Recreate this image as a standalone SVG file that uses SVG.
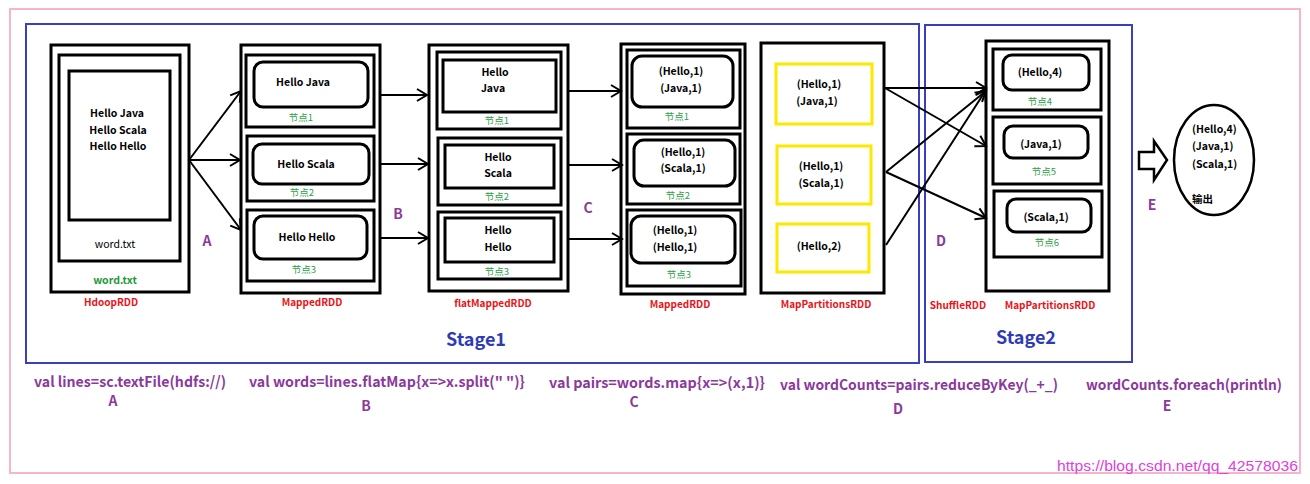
<svg xmlns="http://www.w3.org/2000/svg" width="1310" height="484" viewBox="0 0 1310 484">
<style>
.box{fill:#fff;stroke:#000;stroke-width:3}
.in{fill:none;stroke:#000;stroke-width:3}
.yl{fill:none;stroke:#ffe800;stroke-width:3}
.t{font-family:"Noto Sans CJK SC","Liberation Sans",sans-serif;font-weight:bold;font-size:10.5px;fill:#000;text-anchor:middle;dominant-baseline:central}
.g{font-family:"Noto Sans CJK SC","Liberation Sans",sans-serif;font-size:9.5px;fill:#2e9e48;text-anchor:middle;dominant-baseline:central}
.r{font-family:"Noto Sans CJK SC","Liberation Sans",sans-serif;font-weight:bold;font-size:10px;fill:#e8141a;text-anchor:middle;dominant-baseline:central}
.p{font-family:"Noto Sans CJK SC","Liberation Sans",sans-serif;font-weight:bold;font-size:14px;fill:#8b3a9c;text-anchor:middle;dominant-baseline:central}
.code{font-family:"Noto Sans CJK SC","Liberation Sans",sans-serif;font-weight:bold;font-size:14.5px;fill:#8b3a9c;text-anchor:middle;dominant-baseline:central}
.stg{font-family:"Noto Sans CJK SC","Liberation Sans",sans-serif;font-weight:bold;font-size:18px;fill:#2f3bb3;text-anchor:middle;dominant-baseline:central}
.conn{stroke:#000;stroke-width:2;fill:none;marker-end:url(#ah)}
</style>
<defs>
<marker id="ah" markerUnits="userSpaceOnUse" markerWidth="14" markerHeight="14" refX="11" refY="7" orient="auto" overflow="visible">
<path d="M1,1 L11,7 L1,13" fill="none" stroke="#000" stroke-width="2"/>
</marker>
</defs>
<rect width="1310" height="484" fill="#fff"/>
<rect x="10" y="9" width="1290" height="464" fill="none" stroke="#f4b5cd" stroke-width="2"/>
<g id="stage1">
<rect x="26" y="24" width="893" height="339" fill="none" stroke="#3a3fbf" stroke-width="2"/>
<text class="stg" x="476" y="338">Stage1</text>
</g>
<g id="stage2">
<rect x="925" y="25" width="207" height="337" fill="none" stroke="#3a3fbf" stroke-width="2"/>
<text class="stg" x="1026" y="336">Stage2</text>
</g>
<g id="hdoopRDD">
<rect class="box" x="51" y="45" width="138" height="247"/>
<rect class="in" x="59" y="55" width="121" height="206"/>
<rect class="in" x="69" y="71" width="101" height="149"/>
<text class="t" x="117" y="112">Hello Java</text>
<text class="t" x="118" y="129">Hello Scala</text>
<text class="t" x="118" y="145">Hello Hello</text>
<text class="t" x="115" y="243" style="font-weight:normal">word.txt</text>
<text class="t" x="115" y="279" style="fill:#1d9a3a">word.txt</text>
<text class="r" x="111" y="301">HdoopRDD</text>
</g>
<g id="mappedRDD1">
<rect class="box" x="241" y="45" width="139" height="248"/>
<rect class="in" x="246" y="55" width="128" height="72"/>
<rect class="in" x="254" y="62" width="114" height="45" rx="9"/>
<text class="t" x="303" y="81">Hello Java</text>
<text class="g" x="301" y="117">节点1</text>
<rect class="in" x="247" y="136" width="127" height="65"/>
<rect class="in" x="253" y="144" width="116" height="40" rx="9"/>
<text class="t" x="306" y="163">Hello Scala</text>
<text class="g" x="302" y="192">节点2</text>
<rect class="in" x="247" y="210" width="127" height="71"/>
<rect class="in" x="254" y="216" width="113" height="43" rx="9"/>
<text class="t" x="307" y="236">Hello Hello</text>
<text class="g" x="304" y="269">节点3</text>
<text class="r" x="312" y="301">MappedRDD</text>
</g>
<g id="flatMappedRDD">
<rect class="box" x="429" y="45" width="139" height="246"/>
<rect class="in" x="437" y="52" width="124" height="77"/>
<rect class="in" x="443" y="60" width="113" height="52"/>
<text class="t" x="495" y="71">Hello</text>
<text class="t" x="493" y="87">Java</text>
<text class="g" x="497" y="120">节点1</text>
<rect class="in" x="438" y="138" width="123" height="67"/>
<rect class="in" x="445" y="145" width="109" height="43"/>
<text class="t" x="498" y="156">Hello</text>
<text class="t" x="498" y="172">Scala</text>
<text class="g" x="497" y="196">节点2</text>
<rect class="in" x="438" y="212" width="123" height="67"/>
<rect class="in" x="445" y="218" width="109" height="44"/>
<text class="t" x="498" y="229">Hello</text>
<text class="t" x="498" y="246">Hello</text>
<text class="g" x="497" y="271">节点3</text>
<text class="r" x="493" y="302">flatMappedRDD</text>
</g>
<g id="mappedRDD2">
<rect class="box" x="621" y="44" width="124" height="250"/>
<rect class="in" x="627" y="50" width="113" height="78"/>
<rect class="in" x="632" y="56" width="101" height="51" rx="10"/>
<text class="t" x="681" y="70">(Hello,1)</text>
<text class="t" x="681" y="87">(Java,1)</text>
<text class="g" x="677" y="116">节点1</text>
<rect class="in" x="627" y="134" width="113" height="70"/>
<rect class="in" x="634" y="140" width="101" height="46" rx="10"/>
<text class="t" x="683" y="151">(Hello,1)</text>
<text class="t" x="683" y="167">(Scala,1)</text>
<text class="g" x="678" y="195">节点2</text>
<rect class="in" x="627" y="210" width="114" height="76"/>
<rect class="in" x="631" y="216" width="104" height="47" rx="10"/>
<text class="t" x="675" y="229">(Hello,1)</text>
<text class="t" x="675" y="246">(Hello,1)</text>
<text class="g" x="679" y="274">节点3</text>
<text class="r" x="680" y="303">MappedRDD</text>
</g>
<g id="mapPartitionsRDD1">
<rect class="box" x="761" y="43" width="123" height="250"/>
<rect class="yl" x="776" y="64" width="96" height="60"/>
<text class="t" x="819" y="83">(Hello,1)</text>
<text class="t" x="817" y="100">(Java,1)</text>
<rect class="yl" x="777" y="146" width="94" height="58"/>
<text class="t" x="821" y="165">(Hello,1)</text>
<text class="t" x="821" y="182">(Scala,1)</text>
<rect class="yl" x="777" y="224" width="92" height="48"/>
<text class="t" x="819" y="245">(Hello,2)</text>
<text class="r" x="826" y="303">MapPartitionsRDD</text>
</g>
<g id="mapPartitionsRDD2">
<rect class="box" x="986" y="41" width="123" height="250"/>
<rect class="in" x="993" y="49" width="108" height="61"/>
<rect class="in" x="1003" y="55" width="86" height="35" rx="9"/>
<text class="t" x="1040" y="71">(Hello,4)</text>
<text class="g" x="1040" y="101">节点4</text>
<rect class="in" x="993" y="117" width="108" height="67"/>
<rect class="in" x="1004" y="126" width="84" height="32" rx="9"/>
<text class="t" x="1041" y="143">(Java,1)</text>
<text class="g" x="1044" y="171">节点5</text>
<rect class="in" x="994" y="191" width="108" height="66"/>
<rect class="in" x="1007" y="199" width="84" height="33" rx="9"/>
<text class="t" x="1046" y="216">(Scala,1)</text>
<text class="g" x="1047" y="242">节点6</text>
<text class="r" x="1050" y="304">MapPartitionsRDD</text>
</g>
<g id="shuffleRDD">
<text class="r" x="958" y="304">ShuffleRDD</text>
</g>
<g id="output">
<polygon points="1139,152 1154,152 1154,141 1167,160 1154,180 1154,169 1139,169" fill="#fff" stroke="#000" stroke-width="2.5"/>
<ellipse cx="1214" cy="160" rx="40" ry="55" fill="#fff" stroke="#000" stroke-width="2.5"/>
<text class="t" x="1192" y="128" style="text-anchor:start">(Hello,4)</text>
<text class="t" x="1192" y="145" style="text-anchor:start">(Java,1)</text>
<text class="t" x="1192" y="163" style="text-anchor:start">(Scala,1)</text>
<text class="t" x="1192" y="198" style="text-anchor:start">输出</text>
</g>
<g id="connectors">
<path class="conn" d="M189,160 L241,91"/>
<path class="conn" d="M189,160 L240,160"/>
<path class="conn" d="M189,160 L241,230"/>
<path class="conn" d="M380,95 L427,95"/>
<path class="conn" d="M381,164 L428,164"/>
<path class="conn" d="M381,238 L428,238"/>
<path class="conn" d="M569,91 L621,91"/>
<path class="conn" d="M569,165 L622,165"/>
<path class="conn" d="M569,239 L622,239"/>
<path class="conn" d="M885,88 L986,88"/>
<path class="conn" d="M885,88 L986,146"/>
<path class="conn" d="M886,172 L986,91"/>
<path class="conn" d="M886,172 L986,218"/>
<path class="conn" d="M886,245 L986,90"/>
</g>
<g id="labels">
<text class="p" x="207" y="240">A</text>
<text class="p" x="398" y="213">B</text>
<text class="p" x="588" y="207">C</text>
<text class="p" x="941" y="240">D</text>
<text class="p" x="1152" y="204">E</text>
<text class="code" x="130" y="380" textLength="192" lengthAdjust="spacingAndGlyphs">val lines=sc.textFile(hdfs://)</text>
<text class="p" x="113" y="400">A</text>
<text class="code" x="387" y="380" textLength="276" lengthAdjust="spacingAndGlyphs">val words=lines.flatMap{x=&gt;x.split(" ")}</text>
<text class="p" x="366" y="405">B</text>
<text class="code" x="657" y="381" textLength="216" lengthAdjust="spacingAndGlyphs">val pairs=words.map{x=&gt;(x,1)}</text>
<text class="p" x="634" y="401">C</text>
<text class="code" x="919" y="383" textLength="278" lengthAdjust="spacingAndGlyphs">val wordCounts=pairs.reduceByKey(_+_)</text>
<text class="p" x="898" y="408">D</text>
<text class="code" x="1184" y="383" textLength="196" lengthAdjust="spacingAndGlyphs">wordCounts.foreach(println)</text>
<text class="p" x="1167" y="405">E</text>
<text x="1057" y="471" font-family="Liberation Sans, sans-serif" font-size="14" fill="#e040e0" textLength="241" lengthAdjust="spacingAndGlyphs">https://blog.csdn.net/qq_42578036</text>
</g>
</svg>
